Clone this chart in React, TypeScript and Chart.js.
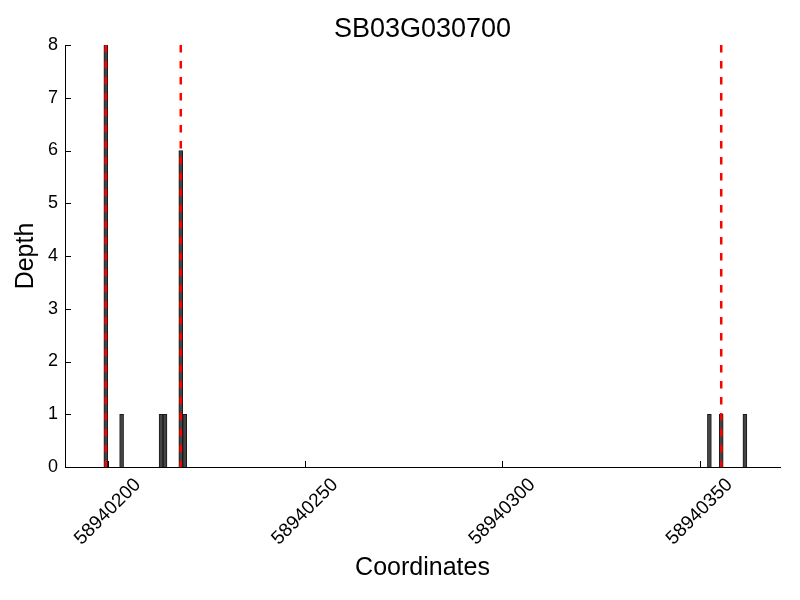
import { useEffect, useRef } from "react";
import { Chart, registerables } from "chart.js";

Chart.register(...registerables);

const TITLE = "SB03G030700";
const X_LABEL = "Coordinates";
const Y_LABEL = "Depth";

// bar positions (genomic coordinate) and read depths
const coordinates = [58940199, 58940203, 58940213, 58940214, 58940218, 58940219, 58940352, 58940355, 58940361];
const depths = [8, 1, 1, 1, 6, 1, 1, 1, 1];
// red dashed marker positions
const markers = [58940199, 58940218, 58940355];
// axis ticks
const xTicks = [58940200, 58940250, 58940300, 58940350];
const yTicks = [0, 1, 2, 3, 4, 5, 6, 7, 8];
const X_MIN = 58940189.15;
const X_MAX = 58940370.4;
const Y_MAX = 8;

const FONT = "'Liberation Sans', Arial, Helvetica, sans-serif";

export default function App() {
  const ref = useRef<HTMLCanvasElement | null>(null);

  useEffect(() => {
    const canvas = ref.current;
    if (!canvas) return;

    const decor = {
      id: "decor",
      afterDraw(chart: any) {
        const ctx = chart.ctx;
        const xs = chart.scales.x;
        const ys = chart.scales.y;
        const area = chart.chartArea;
        ctx.save();
        // inward tick marks
        ctx.strokeStyle = "#000";
        ctx.lineWidth = 1;
        ctx.beginPath();
        yTicks.forEach((v) => {
          const py = Math.round(ys.getPixelForValue(v)) + 0.5;
          ctx.moveTo(area.left, py);
          ctx.lineTo(area.left + 6, py);
        });
        xTicks.forEach((v) => {
          const px = Math.round(xs.getPixelForValue(v)) + 0.5;
          ctx.moveTo(px, area.bottom);
          ctx.lineTo(px, area.bottom - 6);
        });
        ctx.stroke();

        // rotated x tick labels, centred on tick
        ctx.fillStyle = "#000";
        ctx.font = `19px ${FONT}`;
        ctx.textAlign = "center";
        ctx.textBaseline = "middle";
        xTicks.forEach((v) => {
          const px = xs.getPixelForValue(v);
          const label = String(v);
          const w = ctx.measureText(label).width;
          const h = 14;
          const bboxH = (w + h) * Math.SQRT1_2;
          const cy = area.bottom + 10 + bboxH / 2;
          ctx.save();
          ctx.translate(px, cy);
          ctx.rotate(-Math.PI / 4);
          ctx.fillText(label, 0, 0);
          ctx.restore();
        });

        // title centred over plot area
        ctx.font = `27px ${FONT}`;
        ctx.textAlign = "center";
        ctx.textBaseline = "alphabetic";
        ctx.fillText(TITLE, (area.left + area.right) / 2, 37);
        ctx.restore();
      },
    };

    const chart = new Chart(canvas, {
      type: "bar",
      data: {
        datasets: [
          ...markers.map((m) => ({
            type: "line" as const,
            data: [
              { x: m + 0.5, y: Y_MAX },
              { x: m + 0.5, y: 0 },
            ],
            borderColor: "#ff0000",
            borderWidth: 2.5,
            borderDash: [7.5, 8.5],
            pointRadius: 0,
            fill: false,
            order: 0,
            clip: false as any,
          })),
          {
            type: "bar" as const,
            data: coordinates.map((c, i) => ({ x: c + 0.5, y: depths[i] })),
            backgroundColor: "#444444",
            borderColor: "#1a1a1a",
            borderWidth: 1,
            categoryPercentage: 1,
            barPercentage: 1,
            order: 1,
          },
        ],
      } as any,
      options: {
        responsive: false,
        animation: false,
        layout: { padding: { top: 45, right: 20, left: 0, bottom: 0 } },
        plugins: {
          legend: { display: false },
          title: { display: false },
          tooltip: { enabled: false },
        },
        scales: {
          x: {
            type: "linear",
            offset: false,
            min: X_MIN,
            max: X_MAX,
            grid: { display: false, drawTicks: false, offset: false },
            border: { display: true, color: "#000", width: 1 },
            ticks: { display: false },
            title: {
              display: true,
              text: X_LABEL,
              color: "#000",
              font: { family: FONT, size: 25 },
              padding: { top: 0, bottom: 17 },
            },
            afterFit(scale: any) {
              scale.height = 133;
            },
          },
          y: {
            type: "linear",
            min: 0,
            max: Y_MAX,
            grid: { display: false, drawTicks: false },
            border: { display: true, color: "#000", width: 1 },
            ticks: {
              stepSize: 1,
              color: "#000",
              padding: 7,
              font: { family: FONT, size: 18 },
            },
            title: {
              display: true,
              text: Y_LABEL,
              color: "#000",
              font: { family: FONT, size: 25 },
              padding: { top: 11, bottom: 0 },
            },
            afterFit(scale: any) {
              scale.width = 65;
            },
          },
        },
      } as any,
      plugins: [decor],
    });

    return () => chart.destroy();
  }, []);

  return (
    <div style={{ position: "absolute", left: 0, top: 0, width: 800, height: 600, background: "#fff" }}>
      <canvas ref={ref} width={800} height={600} style={{ display: "block" }} />
    </div>
  );
}
